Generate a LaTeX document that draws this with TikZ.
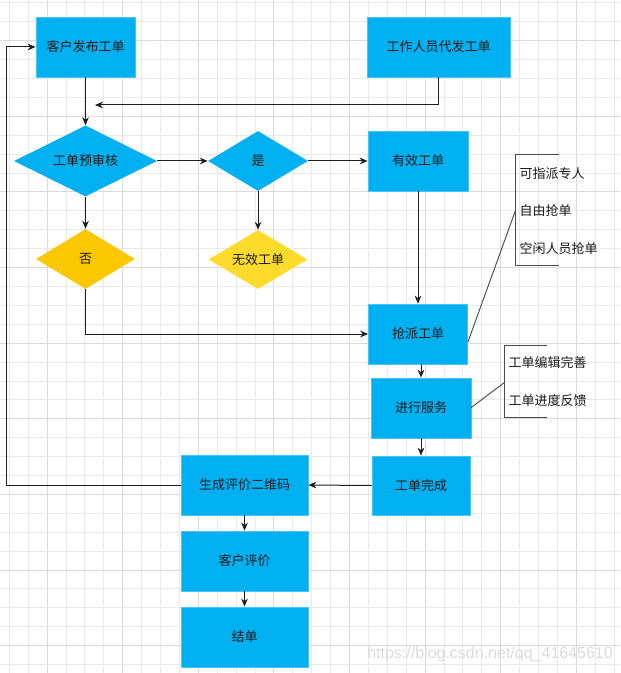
\documentclass[tikz,border=0pt]{standalone}
\usepackage{fontspec}
\setmainfont{Liberation Sans}
\newfontfamily\cjk{Noto Sans CJK SC}
\usetikzlibrary{shapes.geometric,arrows.meta}
\definecolor{boxblue}{HTML}{00B0F0}
\definecolor{boxedge}{HTML}{45C6F5}
\definecolor{yelA}{HTML}{FBC800}
\definecolor{yelB}{HTML}{FCDB2D}
\definecolor{gridmaj}{HTML}{D9D9D9}
\definecolor{gridmin}{HTML}{E9E9E9}
\definecolor{linec}{HTML}{1E1E1E}
\definecolor{txt}{HTML}{1A1A1A}
\begin{document}
\begin{tikzpicture}[x=0.75pt,y=-0.75pt,
  lbl/.style={font=\cjk\fontsize{9.75}{12}\selectfont, text=txt},
  box/.style={lbl, rectangle, fill=boxblue, draw=boxedge, line width=0.6pt, inner sep=0pt},
  dia/.style={lbl, diamond, fill=boxblue, inner sep=0pt, aspect=2},
  arr/.style={draw=linec, line width=0.75pt, -{Stealth[length=6pt,width=5pt]}},
  ln/.style={draw=linec, line width=0.75pt},
  brk/.style={draw=linec!80, line width=0.7pt},
  note/.style={lbl, anchor=west, inner sep=0pt}]
\useasboundingbox (0,0) rectangle (620,673);
\fill[white] (0,0) rectangle (620,673);
% grid
\foreach \i in {0,...,32}{
  \pgfmathsetmacro\gx{9.3+18.9*\i}
  \pgfmathtruncatemacro\m{mod(\i,4)}
  \ifnum\m=2 \draw[gridmaj, line width=0.75pt] (\gx,0) -- (\gx,673);
  \else \draw[gridmin, line width=0.75pt] (\gx,0) -- (\gx,673); \fi
}
\foreach \j in {0,...,35}{
  \pgfmathsetmacro\gy{3+18.9*\j}
  \pgfmathtruncatemacro\m{mod(\j,4)}
  \ifnum\m=2 \draw[gridmaj, line width=0.75pt] (0,\gy) -- (620,\gy);
  \else \draw[gridmin, line width=0.75pt] (0,\gy) -- (620,\gy); \fi
}
% nodes
\node[box, minimum width=74.25pt, minimum height=45pt] (cust) at (85.5,47) {客户发布工单};
\node[box, minimum width=107.25pt, minimum height=45pt] (worker) at (438.5,47) {工作人员代发工单};
\node[dia, minimum width=107.25pt, minimum height=53.25pt] (review) at (85.5,161) {工单预审核};
\node[dia, minimum width=75pt, minimum height=45pt] (yes) at (258,161) {是};
\node[box, minimum width=75pt, minimum height=45pt] (valid) at (418,161) {有效工单};
\node[dia, fill=yelA, minimum width=74.25pt, minimum height=45pt] (no) at (85.5,259) {否};
\node[dia, fill=yelB, minimum width=74.25pt, minimum height=44.25pt] (invalid) at (258,259.5) {无效工单};
\node[box, minimum width=74.25pt, minimum height=45pt] (grab) at (418,334) {抢派工单};
\node[box, minimum width=75pt, minimum height=45pt] (serve) at (421,408) {进行服务};
\node[box, minimum width=73.5pt, minimum height=44.25pt] (done) at (421,485.5) {工单完成};
\node[box, minimum width=95.25pt, minimum height=45pt] (qr) at (244.5,485) {生成评价二维码};
\node[box, minimum width=95.25pt, minimum height=45pt] (eval) at (244.5,561) {客户评价};
\node[box, minimum width=95.25pt, minimum height=45pt] (close) at (244.5,637) {结单};
% helper coordinates
\coordinate (merge) at (95,105);
\coordinate (lb) at (6,485);
\coordinate (g1) at ([yshift=-6pt]grab.east);
\coordinate (b1) at (515.3,211);
\coordinate (b1t) at (515.3,154.5);
\coordinate (b1b) at (515.3,265.3);
\coordinate (s1) at (471,407.7);
\coordinate (b2) at (504.7,382.3);
\coordinate (b2t) at (504.7,345.7);
\coordinate (b2b) at (504.7,417.7);
% connectors
\draw[arr] (worker.south) |- (merge);
\draw[arr] (cust.south) -- (review.north);
\draw[arr] (review.east) -- (yes.west);
\draw[arr] (yes.east) -- (valid.west);
\draw[arr] (yes.south) -- (invalid.north);
\draw[arr] (review.south) -- (no.north);
\draw[arr] (no.south) |- (grab.west);
\draw[arr] (valid.south) -- (grab.north);
\draw[arr] (serve.north |- grab.south) -- (serve.north);
\draw[arr] (serve.south) -- (done.north);
\draw[arr] (done.west) -- (qr.east);
\draw[arr] (qr.west) -- (lb) |- (cust.west);
\draw[arr] (qr.south) -- (eval.north);
\draw[arr] (eval.south) -- (close.north);
% annotations
\draw[brk] (g1) -- (b1);
\draw[brk] ([xshift=33pt]b1t) -- (b1t) -- (b1b) -- ([xshift=33pt]b1b);
\node[note] (n1) at (519.3,173.3) {可指派专人};
\node[note] (n2) at (519.3,211) {自由抢单};
\node[note] (n3) at (519.3,249) {空闲人员抢单};
\draw[brk] (s1) -- (b2);
\draw[brk] ([xshift=31.5pt]b2t) -- (b2t) -- (b2b) -- ([xshift=31.5pt]b2b);
\node[note] (n4) at (508.3,362.7) {工单编辑完善};
\node[note] (n5) at (508.3,401) {工单进度反馈};
% watermark
\node[anchor=base west, inner sep=0pt, font=\fontsize{12}{14}\selectfont, text=gray!28] (wm) at (367,658.7) {https://blog.csdn.net/qq\_41645610};
\end{tikzpicture}
\end{document}
